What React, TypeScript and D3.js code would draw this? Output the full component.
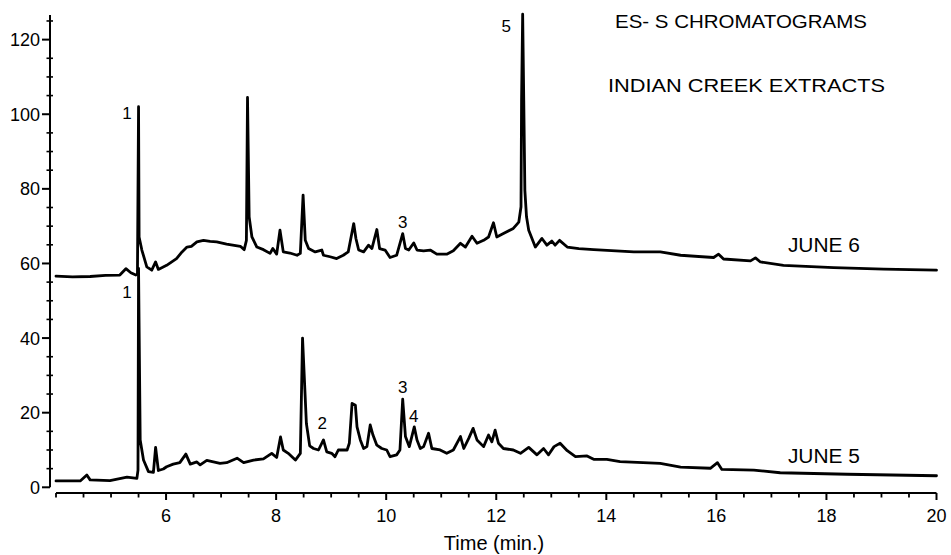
import React from "react";
import * as d3 from "d3";

// June 6 trace: [time (min), response]
const june6: [number, number][] = [
  [4.0, 56.6], [4.3, 56.4], [4.62, 56.5], [4.9, 56.8], [5.16, 56.9], [5.27, 58.6], [5.36, 57.5], [5.45, 56.9], [5.48, 57.1],
  [5.5, 102.0], [5.51, 67.1], [5.56, 63.6], [5.65, 59.1], [5.74, 58.2], [5.81, 60.4], [5.86, 58.4],
  [6.01, 59.5], [6.19, 61.3], [6.29, 63.1], [6.38, 64.4], [6.46, 64.6], [6.56, 65.8], [6.68, 66.2], [6.8, 65.9], [6.92, 65.8],
  [7.1, 65.2], [7.35, 64.6], [7.42, 63.7], [7.46, 66.2], [7.48, 104.5], [7.51, 72.5], [7.56, 67.1],
  [7.65, 64.4], [7.77, 63.7], [7.89, 62.7], [7.94, 64.0], [8.01, 62.5], [8.07, 68.9], [8.13, 63.1],
  [8.25, 62.8], [8.38, 62.2], [8.44, 62.7], [8.49, 78.3], [8.53, 66.2], [8.59, 64.0], [8.71, 63.1],
  [8.83, 63.6], [8.86, 62.2], [8.98, 61.8], [9.1, 61.3], [9.22, 62.2], [9.31, 63.1], [9.41, 70.7],
  [9.45, 66.7], [9.5, 63.6], [9.59, 63.1], [9.68, 64.9], [9.74, 64.0], [9.83, 69.1], [9.88, 64.0],
  [9.98, 63.6], [10.07, 61.6], [10.19, 62.2], [10.3, 68.0], [10.35, 64.0], [10.41, 63.6], [10.5, 65.5],
  [10.56, 63.6], [10.68, 63.4], [10.8, 63.6], [10.92, 62.5], [11.1, 62.5], [11.22, 63.4], [11.35, 65.4],
  [11.44, 64.4], [11.56, 67.3], [11.65, 65.4], [11.77, 66.2], [11.86, 67.1], [11.95, 70.9], [12.01, 67.1],
  [12.13, 68.0], [12.31, 69.4], [12.41, 71.1], [12.45, 75.2], [12.46, 103.7], [12.48, 126.8], [12.5, 103.7],
  [12.52, 79.6], [12.55, 72.5], [12.59, 68.9], [12.71, 64.4], [12.83, 66.7], [12.92, 64.9], [13.01, 66.0],
  [13.07, 64.9], [13.15, 66.2], [13.29, 64.4], [13.5, 64.0], [13.77, 63.7], [14.5, 63.1], [14.98, 63.1],
  [15.35, 62.2], [15.95, 61.6], [16.04, 62.5], [16.13, 61.2], [16.62, 60.7], [16.71, 61.5], [16.8, 60.4],
  [17.22, 59.5], [18.13, 58.9], [19.04, 58.5], [20.0, 58.2],
];

// June 5 trace: [time (min), response]
const june5: [number, number][] = [
  [4.0, 1.7], [4.44, 1.7], [4.56, 3.3], [4.62, 2.0], [4.98, 1.8], [5.29, 2.7], [5.47, 2.4], [5.49, 4.6],
  [5.5, 58.7], [5.53, 12.7], [5.59, 7.3], [5.68, 4.2], [5.77, 4.0], [5.81, 10.7], [5.86, 4.5], [5.95, 4.9],
  [6.01, 5.5], [6.13, 6.2], [6.25, 6.6], [6.36, 8.9], [6.44, 6.2], [6.56, 6.8], [6.62, 6.0], [6.74, 7.2],
  [6.86, 6.8], [6.98, 6.4], [7.1, 6.6], [7.29, 7.8], [7.41, 6.6], [7.59, 7.3], [7.77, 7.6], [7.92, 9.1],
  [8.01, 8.0], [8.08, 13.5], [8.13, 10.0], [8.22, 9.1], [8.35, 7.3], [8.44, 9.1], [8.48, 40.0], [8.55, 17.1],
  [8.61, 11.1], [8.68, 10.4], [8.77, 10.0], [8.86, 12.7], [8.92, 9.5], [9.01, 9.1], [9.07, 8.2], [9.13, 10.0],
  [9.29, 10.0], [9.33, 11.8], [9.38, 22.5], [9.44, 22.0], [9.47, 16.2], [9.53, 12.7], [9.59, 10.4],
  [9.65, 10.9], [9.71, 16.7], [9.76, 14.0], [9.83, 11.3], [9.92, 10.4], [10.01, 10.0], [10.07, 8.2],
  [10.19, 8.7], [10.25, 10.0], [10.3, 23.6], [10.35, 13.6], [10.42, 10.9], [10.51, 16.2], [10.56, 12.7],
  [10.62, 10.4], [10.68, 10.9], [10.77, 14.5], [10.83, 10.4], [10.98, 10.0], [11.1, 9.1], [11.22, 10.0],
  [11.35, 13.6], [11.41, 10.4], [11.5, 13.1], [11.58, 15.8], [11.65, 12.7], [11.77, 10.9], [11.86, 14.0],
  [11.92, 12.2], [11.98, 15.3], [12.04, 11.8], [12.13, 10.4], [12.31, 10.0], [12.44, 9.1], [12.59, 10.7],
  [12.74, 8.7], [12.86, 10.4], [12.95, 8.7], [13.05, 10.9], [13.16, 11.8], [13.29, 9.8], [13.44, 8.2],
  [13.65, 8.4], [13.77, 7.5], [14.01, 7.5], [14.25, 6.9], [14.98, 6.4], [15.35, 5.4], [15.89, 5.1],
  [16.02, 6.6], [16.1, 4.8], [16.68, 4.6], [17.16, 3.9], [18.38, 3.5], [20.0, 3.1],
];

const xMajorTicks = [6, 8, 10, 12, 14, 16, 18, 20];
const yMajorTicks = [0, 20, 40, 60, 80, 100, 120];

const peakLabels: { text: string; t: number; v: number }[] = [
  { text: "1", t: 5.29, v: 98.8 },
  { text: "1", t: 5.29, v: 50.7 },
  { text: "5", t: 12.18, v: 122 },
  { text: "3", t: 10.3, v: 69.5 },
  { text: "3", t: 10.3, v: 25.3 },
  { text: "4", t: 10.5, v: 17.5 },
  { text: "2", t: 8.84, v: 15.6 },
];

const seriesLabels = [
  { text: "JUNE 6", t: 17.3, v: 63.0 },
  { text: "JUNE 5", t: 17.3, v: 6.5 },
];

const FONT = "'Liberation Sans', Arial, Helvetica, sans-serif";

export default function App() {
  const W = 951;
  const H = 555;
  const x = d3.scaleLinear().domain([4, 20]).range([56, 936.5]);
  const y = d3.scaleLinear().domain([0, 126.6]).range([487.3, 15]);
  const line = d3
    .line<[number, number]>()
    .x((d) => x(d[0]))
    .y((d) => y(d[1]));

  const axisY = 493;
  const yAxisX = 50;

  const xMinor = d3.range(4, 20.001, 0.5).filter((t) => !xMajorTicks.includes(t));
  const yMinor = d3.range(0, 126, 5).filter((v) => !yMajorTicks.includes(v));

  React.useEffect(() => {
    document.body.style.margin = "0";
  }, []);

  return (
    <svg
      width={W}
      height={H}
      viewBox={`0 0 ${W} ${H}`}
      style={{ position: "absolute", left: 0, top: 0, display: "block", background: "#fff" }}
      fontFamily={FONT}
    >
      <rect width={W} height={H} fill="#fff" />
      {/* Y axis */}
      <line x1={yAxisX} x2={yAxisX} y1={y(126.6)} y2={y(0)} stroke="#000" strokeWidth={2} />
      {yMajorTicks.map((v) => (
        <g key={"ym" + v}>
          <line x1={yAxisX - 8} x2={yAxisX} y1={y(v)} y2={y(v)} stroke="#000" strokeWidth={2} />
          <text x={40} y={y(v)} dy="0.36em" textAnchor="end" fontSize={18} fill="#000">
            {v}
          </text>
        </g>
      ))}
      {yMinor.map((v) => (
        <line key={"yn" + v} x1={yAxisX - 3.5} x2={yAxisX + 3} y1={y(v)} y2={y(v)} stroke="#000" strokeWidth={1.6} />
      ))}
      {/* X axis */}
      <line x1={x(4)} x2={x(20)} y1={axisY} y2={axisY} stroke="#000" strokeWidth={2} />
      {xMajorTicks.map((t) => (
        <g key={"xm" + t}>
          <line x1={x(t)} x2={x(t)} y1={axisY} y2={axisY + 7} stroke="#000" strokeWidth={2} />
          <text x={x(t)} y={521.5} textAnchor="middle" fontSize={18} fill="#000">
            {t}
          </text>
        </g>
      ))}
      {xMinor.map((t) => (
        <line key={"xn" + t} x1={x(t)} x2={x(t)} y1={axisY} y2={axisY + 4.5} stroke="#000" strokeWidth={1.8} />
      ))}
      <text x={494} y={550} textAnchor="middle" fontSize={20} fill="#000">
        Time (min.)
      </text>

      {/* Traces */}
      <path d={line(june6) || ""} fill="none" stroke="#000" strokeWidth={2.8} strokeLinejoin="round" strokeLinecap="round" />
      <path d={line(june5) || ""} fill="none" stroke="#000" strokeWidth={2.8} strokeLinejoin="round" strokeLinecap="round" />

      {/* Peak labels */}
      {peakLabels.map((p, i) => (
        <text key={"pk" + i} x={x(p.t)} y={y(p.v)} textAnchor="middle" fontSize={17} fill="#000">
          {p.text}
        </text>
      ))}

      {/* Series labels */}
      {seriesLabels.map((s) => (
        <text key={s.text} x={x(s.t)} y={y(s.v)} fontSize={20} fill="#000" textLength={72} lengthAdjust="spacingAndGlyphs">
          {s.text}
        </text>
      ))}

      {/* Title */}
      <text x={615} y={28} fontSize={18.5} fill="#000" textLength={252} lengthAdjust="spacingAndGlyphs">
        ES- S CHROMATOGRAMS
      </text>
      <text x={608} y={91.5} fontSize={18.5} fill="#000" textLength={277} lengthAdjust="spacingAndGlyphs">
        INDIAN CREEK EXTRACTS
      </text>
    </svg>
  );
}
